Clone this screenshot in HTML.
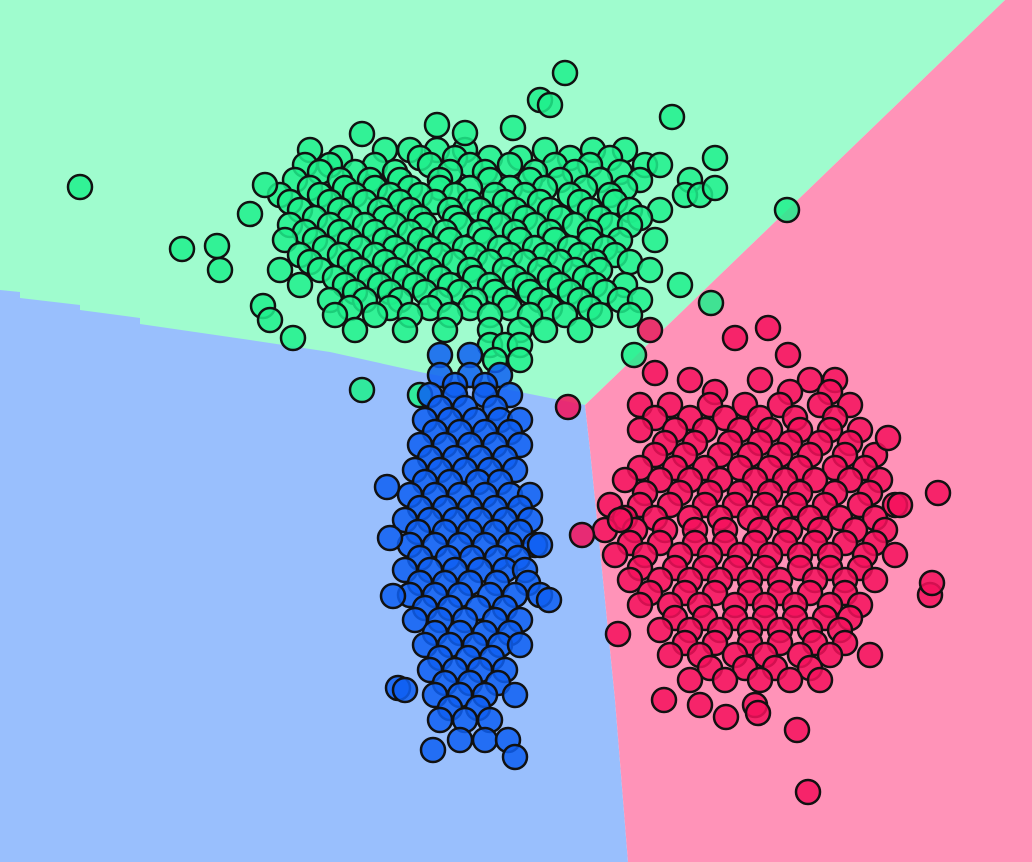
<!DOCTYPE html>
<html><head><meta charset="utf-8"><style>
html,body{margin:0;padding:0;background:#fff;}
svg{display:block;}
</style></head><body>
<svg id="chart" width="1032" height="862" viewBox="0 0 1032 862" xmlns="http://www.w3.org/2000/svg">
<g id="regions">
<polygon fill="#9ffcce" points="0,0 1005,0 585,405 0,405"/>
<polygon fill="#99bffd" points="0,290 20,292 20,298 80,305 80,310 140,318 140,324 250,340 330,352 420,372 585,405 590,450 605,600 615,700 628,862 0,862"/>
<polygon fill="#ff93b8" points="1005,0 1032,0 1032,862 628,862 615,700 605,600 590,450 585,405"/>
</g>
<g id="points"></g>
</svg>
<script>
const greenRows = [
 [150,[310,385,410,437,465,545,593,625]],
 [158,[340,420,455,490,520,570,610]],
 [165,[305,330,375,430,470,510,555,590,645,660]],
 [172,[320,355,395,450,485,535,575,620]],
 [180,[295,340,370,400,440,490,530,560,600,640,690]],
 [188,[310,345,375,410,440,470,510,545,585,625]],
 [195,[280,320,355,390,420,455,495,525,570,610,685,700]],
 [202,[290,330,365,400,435,470,505,540,580,615]],
 [210,[300,340,380,410,450,480,515,550,590,630,660]],
 [218,[315,350,385,420,455,490,525,560,600,640]],
 [225,[290,330,365,395,425,460,500,535,575,610,630]],
 [232,[305,340,375,410,445,480,515,550,590]],
 [240,[285,315,350,385,420,450,485,520,555,590,620,655]],
 [248,[325,360,395,430,465,500,535,570,605]],
 [255,[300,340,375,405,440,475,510,545,580,615]],
 [262,[310,350,385,420,455,490,525,560,595,630]],
 [270,[280,320,360,395,430,470,505,540,575,600,650]],
 [278,[335,370,405,440,475,515,550,585]],
 [285,[300,345,380,415,450,490,525,560,595,625,680]],
 [292,[355,390,425,460,495,530,570,605]],
 [300,[330,365,400,440,475,505,540,580,620,640]],
 [308,[350,390,430,470,510,550,590]],
 [315,[335,375,410,450,490,530,565,600,630]],
 [330,[355,405,445,490,520,545,580]],
 [345,[490,505,520]],
 [360,[495,520]]
];
const greenExtra = [[80,187],[182,249],[217,246],[220,270],[250,214],[265,185],[263,306],[270,320],[293,338],[362,134],[362,390],[420,395],[565,73],[540,100],[550,105],[513,128],[672,117],[715,158],[715,188],[787,210],[711,303],[634,355],[437,125],[465,133]];
const blueRows = [
 [355,[440,470]],
 [375,[440,470,500]],
 [385,[455,485]],
 [395,[430,455,485,510]],
 [408,[440,465,495]],
 [420,[425,450,475,500,520]],
 [432,[435,460,485,510]],
 [445,[420,445,470,495,520]],
 [458,[430,455,480,505]],
 [470,[415,440,465,490,515]],
 [482,[425,450,478,500]],
 [495,[410,435,460,485,510,530]],
 [508,[420,445,470,495,520]],
 [520,[405,430,455,480,505,530]],
 [532,[418,445,470,495,520]],
 [545,[410,435,460,485,510,535]],
 [558,[420,448,472,497,518]],
 [570,[405,430,455,480,505,525]],
 [583,[420,445,470,497,528]],
 [595,[410,435,460,490,515,540]],
 [608,[425,450,478,505]],
 [620,[415,440,465,495,520]],
 [633,[435,460,485,510]],
 [645,[425,450,475,500,520]],
 [658,[440,468,492]],
 [670,[430,455,480,505]],
 [683,[445,470,498]],
 [695,[435,460,485,515]],
 [708,[450,478]],
 [720,[440,465,490]],
 [740,[460,485,508]]
];
const blueExtra = [[387,487],[390,538],[398,688],[405,690],[393,596],[515,757],[433,750],[549,600],[540,545]];
const pinkRows = [
 [380,[690,760,810,835]],
 [392,[715,790,830]],
 [405,[640,670,710,745,780,820,850]],
 [418,[655,690,725,760,795,835]],
 [430,[640,675,705,740,770,800,830,860]],
 [443,[665,695,730,760,790,820,850]],
 [455,[655,685,720,750,780,810,845,875]],
 [468,[640,675,705,740,770,800,835,865]],
 [480,[625,660,690,720,755,785,815,850,880]],
 [493,[645,680,710,740,770,800,835,870]],
 [505,[610,640,670,705,735,765,795,825,860,895]],
 [518,[625,655,690,720,750,780,810,840,875]],
 [530,[605,635,665,695,725,760,790,820,855,885]],
 [543,[630,660,695,725,755,785,815,845,875]],
 [555,[615,645,680,710,740,770,800,830,865,895]],
 [568,[640,675,705,735,765,800,830,860]],
 [580,[630,660,690,720,750,780,815,845,875]],
 [593,[650,685,715,750,780,810,845]],
 [605,[640,670,700,735,765,795,830,860]],
 [618,[675,705,735,765,795,825,850]],
 [630,[660,690,720,750,780,810,840]],
 [643,[685,715,750,780,815,845]],
 [655,[670,700,735,765,800,830,870]],
 [668,[710,745,775,810]],
 [680,[690,725,760,790,820]],
 [705,[700,755]]
];
const pinkExtra = [[568,407],[582,535],[618,634],[664,700],[726,717],[797,730],[808,792],[930,595],[932,583],[938,493],[888,438],[768,328],[735,338],[788,355],[650,330],[655,373],[620,520],[758,713],[900,505]];

const W = 1032, H = 862;
function xScale(v){ return v * W / 1032; }
function yScale(v){ return v * H / 862; }

const NS = "http://www.w3.org/2000/svg";
const layer = document.getElementById('points');
function draw(rows, extra, fill, name){
  const pts = [];
  rows.forEach(r => r[1].forEach(x => pts.push([x, r[0]])));
  extra.forEach(p => pts.push(p));
  pts.forEach(p => {
    const c = document.createElementNS(NS, 'circle');
    c.setAttribute('cx', xScale(p[0]));
    c.setAttribute('cy', yScale(p[1]));
    c.setAttribute('r', 12);
    c.setAttribute('fill', fill);
    c.setAttribute('fill-opacity', 0.85);
    c.setAttribute('stroke', '#111');
    c.setAttribute('stroke-width', 2.5);
    
    
    layer.appendChild(c);
  });
}
draw(greenRows, greenExtra, '#1ff08c', 'green-point');
draw(blueRows, blueExtra, '#0e5ff2', 'blue-point');
draw(pinkRows, pinkExtra, '#f5105c', 'pink-point');
</script>
</body></html>
